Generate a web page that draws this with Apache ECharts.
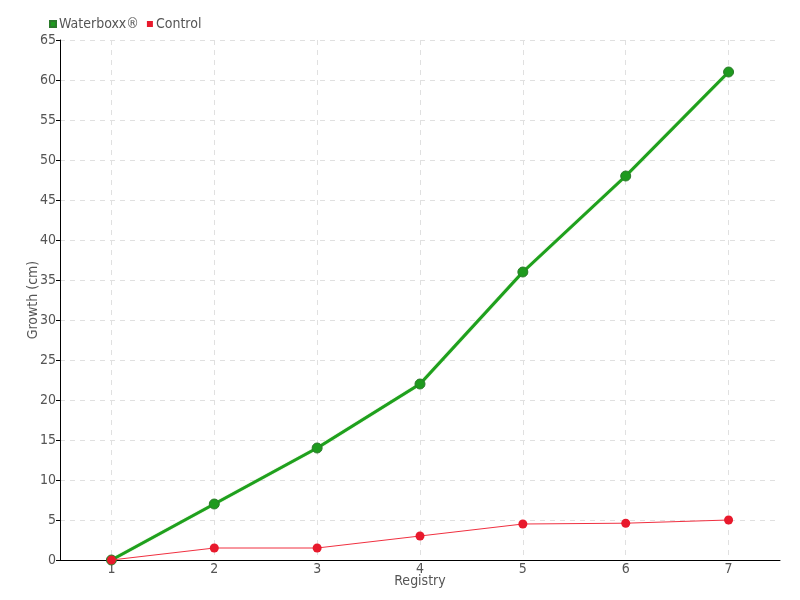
<!DOCTYPE html>
<html><head><meta charset="utf-8">
<script src="https://cdn.jsdelivr.net/npm/echarts@6/dist/echarts.min.js"></script>
<style>html,body{margin:0;padding:0;background:#fff}#c{width:800px;height:600px}</style>
</head><body><div id="c"></div>
<script>
const categories = ['1','2','3','4','5','6','7'];
const waterboxx = [0, 7, 14, 22, 36, 48, 61];
const control = [0, 1.5, 1.5, 3, 4.5, 4.6, 5];
const FONT = "'DejaVu Sans Condensed','Liberation Sans Narrow',sans-serif";
const chart = echarts.init(document.getElementById('c'));
chart.setOption({
  animation: false,
  textStyle: {fontFamily: FONT},
  legend: {
    left: 44, top: 12, itemWidth: 6, itemHeight: 6, itemGap: 8,
    icon: 'rect',
    textStyle: {fontFamily: FONT, fontSize: 14, color: '#555', padding: [0,0,0,-2]},
    data: ['Waterboxx®', 'Control']
  },
  grid: {left: 60, right: 20, top: 40, bottom: 40},
  xAxis: {
    type: 'category', data: categories, boundaryGap: true,
    name: 'Registry', nameLocation: 'middle', nameGap: 14, nameMoveOverlap: false,
    nameTextStyle: {fontFamily: FONT, fontSize: 14, color: '#555'},
    axisLine: {lineStyle: {color: '#000', width: 1}},
    axisTick: {alignWithLabel: true, length: 5, lineStyle: {color: '#000'}},
    axisLabel: {fontFamily: FONT, fontSize: 14, color: '#555', margin: 2},
    splitLine: {show: true, alignWithLabel: true, lineStyle: {type: [5,5], color: '#e0e0e0'}}
  },
  yAxis: {
    type: 'value', min: 0, max: 65, interval: 5,
    name: 'Growth (cm)', nameLocation: 'middle', nameGap: 20, nameMoveOverlap: false,
    nameTextStyle: {fontFamily: FONT, fontSize: 14, color: '#555'},
    axisLine: {show: true, lineStyle: {color: '#000', width: 1}},
    axisTick: {show: true, length: 4, lineStyle: {color: '#000'}},
    axisLabel: {fontFamily: FONT, fontSize: 14, color: '#555', margin: 4},
    splitLine: {show: true, lineStyle: {type: [5,5], color: '#e0e0e0'}}
  },
  series: [
    {
      name: 'Waterboxx®', type: 'line', data: waterboxx,
      symbol: 'circle', symbolSize: 10,
      itemStyle: {color: '#1e9a1e', borderColor: '#2a7a2a', borderWidth: 1},
      lineStyle: {color: '#1ea01e', width: 3, shadowColor: 'rgba(120,200,80,0.8)', shadowBlur: 1},
      z: 3
    },
    {
      name: 'Control', type: 'line', data: control,
      symbol: 'circle', symbolSize: 9,
      itemStyle: {color: '#e8192c', borderColor: '#e8192c', borderWidth: 0},
      lineStyle: {color: '#f03040', width: 1},
      z: 4
    }
  ]
});
</script></body></html>
